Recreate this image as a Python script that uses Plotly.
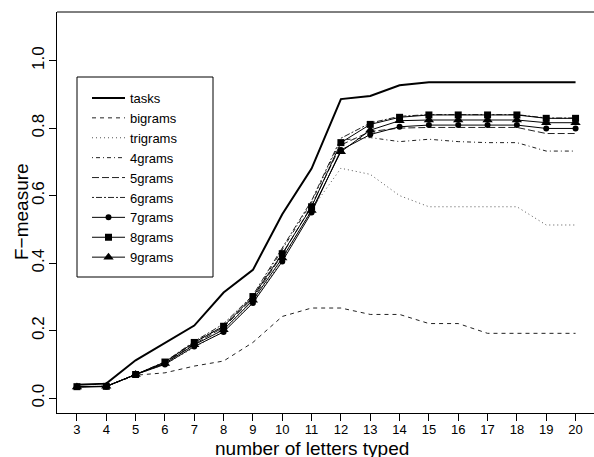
import plotly.graph_objects as go

letters = [3, 4, 5, 6, 7, 8, 9, 10, 11, 12, 13, 14, 15, 16, 17, 18, 19, 20]

tasks    = [0.040, 0.043, 0.112, 0.163, 0.215, 0.313, 0.380, 0.545, 0.680, 0.886, 0.895, 0.927, 0.936, 0.936, 0.936, 0.936, 0.936, 0.936]
bigrams  = [0.034, 0.035, 0.068, 0.075, 0.095, 0.110, 0.165, 0.242, 0.267, 0.267, 0.248, 0.248, 0.221, 0.221, 0.192, 0.192, 0.192, 0.192]
trigrams = [0.034, 0.035, 0.070, 0.100, 0.150, 0.200, 0.285, 0.410, 0.560, 0.681, 0.663, 0.600, 0.567, 0.567, 0.567, 0.567, 0.513, 0.513]
grams4   = [0.034, 0.035, 0.070, 0.105, 0.165, 0.215, 0.300, 0.440, 0.580, 0.765, 0.772, 0.760, 0.767, 0.760, 0.757, 0.757, 0.732, 0.732]
grams5   = [0.034, 0.035, 0.070, 0.105, 0.160, 0.210, 0.295, 0.425, 0.570, 0.750, 0.790, 0.800, 0.802, 0.802, 0.802, 0.802, 0.784, 0.784]
grams6   = [0.034, 0.035, 0.070, 0.108, 0.168, 0.220, 0.305, 0.445, 0.585, 0.770, 0.815, 0.835, 0.840, 0.840, 0.840, 0.840, 0.830, 0.830]
grams7   = [0.033, 0.034, 0.070, 0.100, 0.153, 0.196, 0.282, 0.405, 0.550, 0.735, 0.781, 0.804, 0.809, 0.809, 0.809, 0.809, 0.799, 0.799]
grams8   = [0.034, 0.035, 0.070, 0.107, 0.165, 0.213, 0.301, 0.428, 0.567, 0.757, 0.811, 0.832, 0.839, 0.839, 0.839, 0.839, 0.829, 0.829]
grams9   = [0.033, 0.035, 0.070, 0.103, 0.158, 0.203, 0.290, 0.415, 0.556, 0.730, 0.794, 0.822, 0.824, 0.824, 0.824, 0.824, 0.816, 0.816]

y_ticks = [0.0, 0.2, 0.4, 0.6, 0.8, 1.0]
y_ticktext = ["0.0", "0.2", "0.4", "0.6", "0.8", "1.0"]

FONT = "Liberation Sans, Arial, Helvetica, sans-serif"

series = [
    ("tasks", tasks, dict(color="black", width=2, dash="solid"), None),
    ("bigrams", bigrams, dict(color="#222", width=1, dash="4px,4px"), None),
    ("trigrams", trigrams, dict(color="#555", width=1, dash="1px,3px"), None),
    ("4grams", grams4, dict(color="#222", width=1, dash="1px,3px,4px,3px"), None),
    ("5grams", grams5, dict(color="#222", width=1, dash="7px,3px"), None),
    ("6grams", grams6, dict(color="#222", width=1, dash="2px,2px,6px,2px"), None),
    ("7grams", grams7, dict(color="black", width=1, dash="solid"), dict(symbol="circle", size=6, color="black")),
    ("8grams", grams8, dict(color="black", width=1, dash="solid"), dict(symbol="square", size=7, color="black")),
    ("9grams", grams9, dict(color="black", width=1, dash="solid"), dict(symbol="triangle-up", size=9, color="black")),
]

fig = go.Figure()
for name, vals, line, marker in series:
    fig.add_trace(go.Scatter(
        x=letters, y=vals, name=name,
        mode="lines+markers" if marker else "lines",
        line=line, marker=marker if marker else None,
    ))

W, H = 594, 457
L, R, T, B = 57, 0, 12, 44
pw, ph = W - L - R, H - T - B

def px_x(p):
    return (p - L) / pw

def px_y(p):
    return (H - B - p) / ph

fig.update_layout(
    width=W, height=H,
    margin=dict(l=L, r=R, t=T, b=B, pad=0),
    paper_bgcolor="white", plot_bgcolor="white",
    font=dict(family=FONT, size=13, color="black"),
    showlegend=True,
    legend=dict(
        x=px_x(87), y=px_y(83), xanchor="left", yanchor="top",
        bgcolor="rgba(0,0,0,0)", borderwidth=0,
        font=dict(family=FONT, size=13, color="black"),
        tracegroupgap=0, itemwidth=33,
    ),
    xaxis=dict(
        range=[2.32, 2.32 + pw / 29.33],
        tickvals=letters, ticktext=[str(v) for v in letters],
        showline=True, linecolor="black", linewidth=1,
        ticks="outside", ticklen=7, tickcolor="black", tickwidth=1,
        showgrid=False, zeroline=False, mirror=False,
        tickfont=dict(size=13), ticklabelstandoff=-3,
    ),
    yaxis=dict(
        range=[-0.044, 1.144],
        tickvals=y_ticks, ticktext=y_ticktext, tickangle=-90,
        showline=True, linecolor="black", linewidth=1,
        ticks="outside", ticklen=7, tickcolor="black", tickwidth=1,
        showgrid=False, zeroline=False, mirror=False,
        tickfont=dict(size=17), ticklabelstandoff=-2,
    ),
    shapes=[
        dict(type="line", xref="paper", yref="paper", x0=0, x1=1, y0=1, y1=1,
             line=dict(color="black", width=1)),
        dict(type="rect", xref="paper", yref="paper",
             x0=px_x(77), x1=px_x(213), y0=px_y(277), y1=px_y(77),
             line=dict(color="black", width=1)),
    ],
    annotations=[
        dict(text="number of letters typed", xref="paper", yref="paper",
             x=px_x(312), y=px_y(448), xanchor="center", yanchor="middle",
             showarrow=False, font=dict(size=19)),
        dict(text="F\u2212measure", xref="paper", yref="paper",
             x=px_x(21), y=px_y(212), xanchor="center", yanchor="middle",
             textangle=-90, showarrow=False, font=dict(size=19)),
    ],
)

fig.write_html("out.html", config={"displayModeBar": False},
               post_script="document.body.style.margin='0px';")
